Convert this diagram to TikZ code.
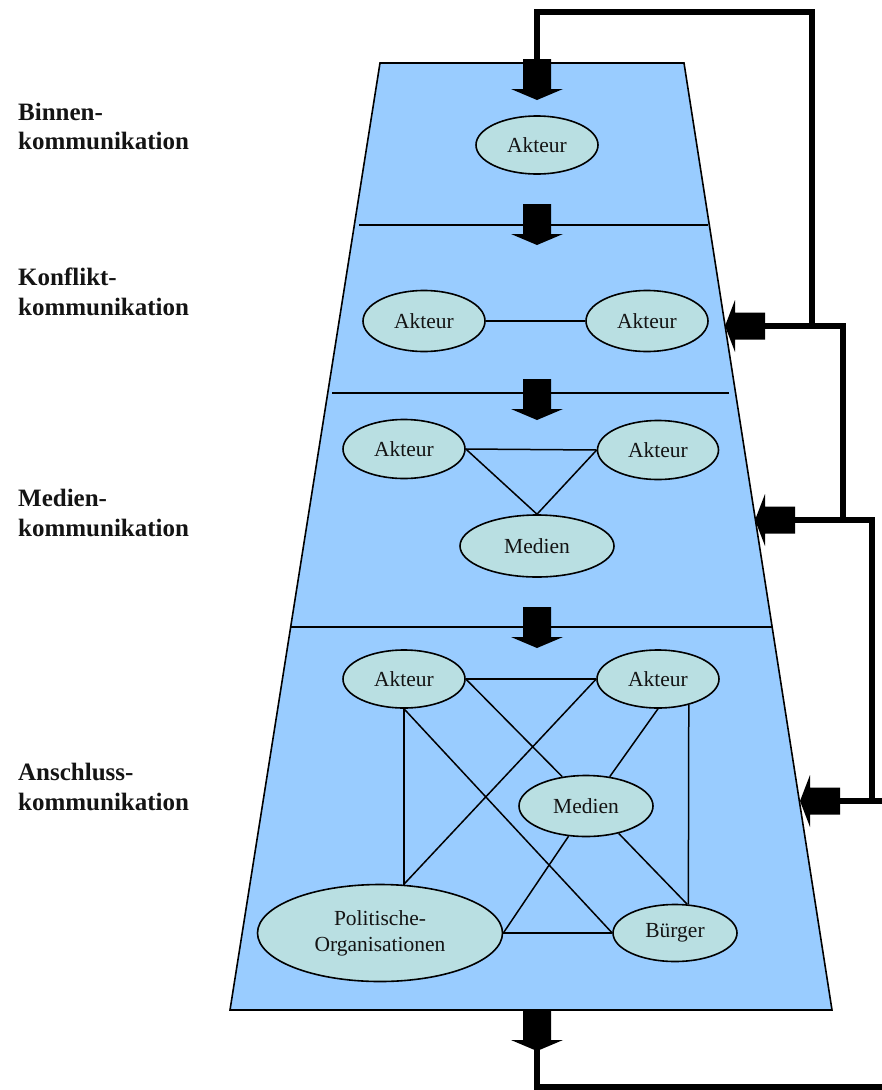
\documentclass[tikz,border=0pt]{standalone}
\usepackage{fontspec}
\setmainfont{Liberation Serif}
\usetikzlibrary{shapes.geometric}
\definecolor{funnel}{RGB}{153,204,255}
\definecolor{actor}{RGB}{185,223,226}
\definecolor{ink}{RGB}{20,20,20}

\begin{document}
\begin{tikzpicture}[x=1pt,y=-1pt,
  stage/.style={font=\fontsize{25}{29}\selectfont\bfseries, anchor=base west, inner sep=0, text=ink},
  party/.style={ellipse, draw=black, line width=1.6, fill=actor, inner sep=0,
                font=\fontsize{21.5}{26}\selectfont, text=ink, align=center},
  link/.style={line width=1.5},
  divider/.style={line width=1.5},
  feedback/.style={line width=6.5, line join=miter},
  pics/downblk/.style={code={\fill (-14,0) -- (14,0) -- (14,30) -- (26,30) -- (0,41)
                        -- (-26,30) -- (-14,30) -- cycle;}},
  pics/leftblk/.style={code={\fill (0,-13.5) -- (0,13.5) -- (-30,13.5) -- (-30,26) -- (-40,0)
                        -- (-30,-26) -- (-30,-13.5) -- cycle;}},
]
\useasboundingbox (0,0) rectangle (882,1090);
\clip (0,0) rectangle (882,1090);

% funnel body
\filldraw[fill=funnel, draw=black, line width=1.6]
  (380,63) -- (684,63) -- (832,1010) -- (230,1010) -- cycle;

% stage dividers
\draw[divider] (359,225) -- (708,225);
\draw[divider] (332,393) -- (729,393);
\draw[divider] (290,627) -- (773,627);

% stage labels
\node[stage] (s1a) at (18,120) {Binnen-};
\node[stage] (s1b) at (18,149) {kommunikation};
\node[stage] (s2a) at (18,285) {Konflikt-};
\node[stage] (s2b) at (18,315) {kommunikation};
\node[stage] (s3a) at (18,506) {Medien-};
\node[stage] (s3b) at (18,536) {kommunikation};
\node[stage] (s4a) at (18,780) {Anschluss-};
\node[stage] (s4b) at (18,810) {kommunikation};

% stage 1
\node[party, minimum width=122, minimum height=58] (b1) at (537,145) {Akteur};

% stage 2
\node[party, minimum width=122, minimum height=61] (k1) at (424,321) {Akteur};
\node[party, minimum width=122, minimum height=61] (k2) at (647,321) {Akteur};
\draw[link] (k1.east) -- (k2.west);

% stage 3
\node[party, minimum width=122, minimum height=59] (m1) at (404,449) {Akteur};
\node[party, minimum width=121, minimum height=59] (m2) at (658,450) {Akteur};
\node[party, minimum width=154, minimum height=62] (mm) at (537,546) {Medien};
\draw[link] (m1.east) -- (m2.west);
\draw[link] (m1.east) -- (mm.north);
\draw[link] (m2.west) -- (mm.north);

% stage 4
\node[party, minimum width=122, minimum height=58] (a1) at (404,679) {Akteur};
\node[party, minimum width=122, minimum height=58] (a2) at (658,679) {Akteur};
\node[party, minimum width=134, minimum height=61] (am) at (586,806) {Medien};
\node[party, minimum width=245, minimum height=97] (ap) at (380,933) {Politische-\\Organisationen};
\node[party, minimum width=124, minimum height=57] (ab) at (675,933) {Bürger};
\draw[link] (a1.east) -- (a2.west);
\draw[link] (a1.east) -- (am.129);
\draw[link] (a2.south) -- (am.51);
\draw[link] (a2.west) -- (ap.64);
\draw[link] (a1.south) -- (a1.south |- ap.64);
\draw[link] (a1.south) -- (ab.west);
\draw[link] (a2.-40) -- (ab.65);
\draw[link] (am.-120) -- (ap.east);
\draw[link] (am.-40) -- (ab.67);
\draw[link] (ap.east) -- (ab.west);

% block arrows along the funnel
\pic at (537,59)   {downblk};
\pic at (537,204)  {downblk};
\pic at (537,379)  {downblk};
\pic at (537,607)  {downblk};
\pic at (537,1010) {downblk};
\pic at (765,326)  {leftblk};
\pic at (795,520)  {leftblk};
\pic at (840,801)  {leftblk};

% feedback loop
\coordinate (inTop) at (537,59);
\coordinate (outBot) at (537,1050);
\coordinate (fb1) at (765,326);
\coordinate (fb2) at (795,520);
\coordinate (fb3) at (840,801);
\draw[feedback] (inTop) -- (537,12) -- (812,12) -- (812,326);
\draw[feedback] (fb1) -- (843,326) -- (843,520);
\draw[feedback] (fb2) -- (872,520) -- (872,801);
\draw[feedback] (fb3) -- (900,801) -- (900,1087) -- (537,1087) -- (outBot);
\end{tikzpicture}
\end{document}
